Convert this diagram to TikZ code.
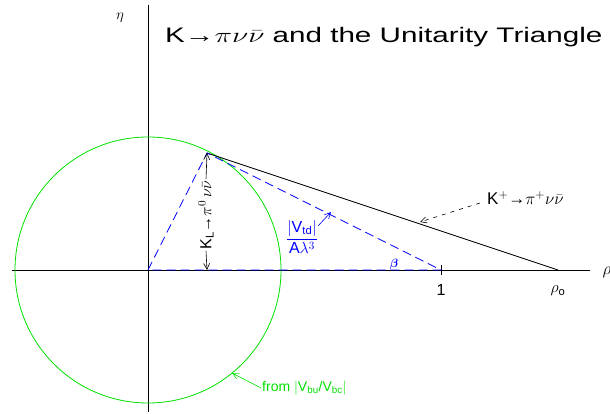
\RequirePackage{fix-cm}
\documentclass[tikz,border=0pt]{standalone}
\usepackage{fontspec}
\usepackage{amsmath}
\usepackage{graphicx}
\setmainfont{Liberation Sans}
\usetikzlibrary{arrows.meta}
\definecolor{lgreen}{RGB}{0,225,0}
\begin{document}
\begin{tikzpicture}[x=1pt,y=-1pt,
  axis/.style={black, line width=0.8pt},
  bdash/.style={blue, line width=0.8pt, dash pattern=on 9pt off 5pt},
  tri/.style={black, line width=0.8pt},
  lbl/.style={inner sep=1pt},
  tip/.style={-{Straight Barb[length=6pt,width=6pt]}, line width=0.6pt}]
\useasboundingbox[fill=white] (0,0) rectangle (610,414);
% coordinates
\coordinate (O) at (148,270);
\coordinate (A) at (207,153);
\coordinate (P1) at (441,270);
\coordinate (R0) at (558,270);
\coordinate (Ytop) at (148,5);
\coordinate (Ybot) at (148,412);
\coordinate (Xl) at (12,270);
\coordinate (Xr) at (590,270);
\coordinate (Afoot) at (207,270);
% axes
\draw[axis] (Ytop) -- (Ybot);
\draw[axis] (Xl) -- (Xr);
\draw[axis] ([yshift=-5pt]P1) -- ([yshift=5pt]P1);
% circle
\draw[lgreen, line width=0.8pt] (O) circle (133pt);
% triangles
\draw[tri] (A) -- (R0);
\draw[bdash] (O) -- (A) -- (P1) -- cycle;
% labels
\node[lbl] (eta) at (120,18) {\fontsize{15}{15}\selectfont$\eta$};
\node[lbl] (rho) at (607,272) {\fontsize{17}{17}\selectfont$\rho$};
\node[lbl] (one) at (441,290) {\fontsize{16}{16}\selectfont 1};
\node[lbl] (rho0) at (558,291) {\fontsize{16}{16}\selectfont$\rho_{\text{o}}$};
\node[lbl, anchor=west] (title) at (164,37) {\fontsize{21}{21}\selectfont\scalebox{1.41}[1]{K→$\pi\nu\bar\nu$ and the Unitarity Triangle}};
\node[lbl, rotate=90] (kl) at (206,215) {\fontsize{16}{16}\selectfont K$_{\text{L}}$→$\pi^{0}\,\nu\bar\nu$};
\draw[tip] (kl.east) -- (A);
\draw[tip] (kl.west) -- (Afoot);
\node[lbl, text=blue] (vtd) at (302,237) {\fontsize{16}{16}\selectfont$\dfrac{|\text{V}_{\text{td}}|}{\text{A}\lambda^{3}}$};
\coordinate (vtdtip) at (331,212);
\coordinate (vtdtail) at (318,226);
\draw[tip, blue] (vtdtail) -- (vtdtip);
\node[lbl, text=blue] (beta) at (394,264) {\fontsize{12}{12}\selectfont$\boldsymbol{\beta}$};
\node[lbl, anchor=west] (kp) at (486,198) {\fontsize{17}{17}\selectfont K$^{+}$→$\pi^{+}\nu\bar\nu$};
\coordinate (kptip) at (420,222);
\draw[tip, dash pattern=on 4pt off 5pt] (kp.west) ++(-6,5) -- (kptip);
\node[lbl, anchor=west, text=lgreen] (from) at (261,388) {\fontsize{14}{14}\selectfont from $|$V$_{\text{bu}}$/V$_{\text{bc}}|$};
\coordinate (frtip) at (232,373);
\draw[tip, lgreen] (from.west) -- (frtip);
\end{tikzpicture}
\end{document}
